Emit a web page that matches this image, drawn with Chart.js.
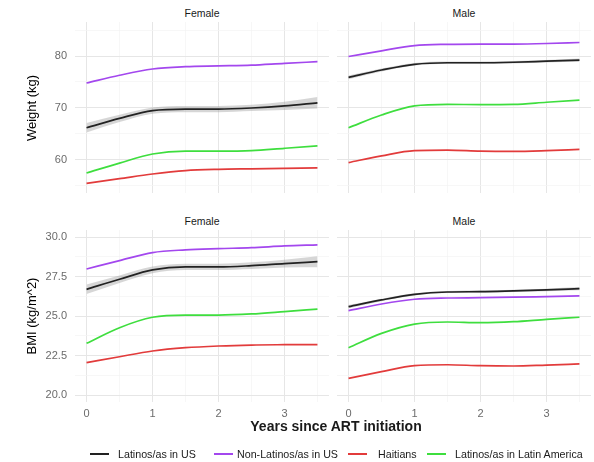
<!DOCTYPE html>
<html>
<head>
<meta charset="utf-8">
<script src="https://cdn.jsdelivr.net/npm/chart.js@4.4.0/dist/chart.umd.min.js"></script>
<style>
  body { margin: 0; background: #fff; font-family: "Liberation Sans", Arial, sans-serif; }
  #wrap { position: relative; width: 594px; height: 462px; overflow: hidden; }
  #wrap canvas { position: absolute; }
  .strip { position: absolute; font-size: 10.5px; color: #1a1a1a; transform: translate(-50%, -50%); white-space: nowrap; }
  .ytitle { position: absolute; font-size: 13px; color: #000; white-space: nowrap; transform: translate(-50%, -50%) rotate(-90deg); }
  .xtitle { position: absolute; font-size: 14px; font-weight: bold; color: #1a1a1a; white-space: nowrap; transform: translate(-50%, -50%); }
  .lkey { position: absolute; width: 19px; height: 2px; top: 453px; }
  .ltxt { position: absolute; top: 454px; font-size: 10.7px; color: #1a1a1a; white-space: nowrap; transform: translateY(-50%); }
</style>
</head>
<body>
<div id="wrap">
  <canvas id="wtFem" width="329" height="171" style="left:0;top:22px"></canvas>
  <canvas id="wtMale" width="254" height="171" style="left:337px;top:22px"></canvas>
  <canvas id="bmiFem" width="329" height="190" style="left:0;top:230px"></canvas>
  <canvas id="bmiMale" width="254" height="190" style="left:337px;top:230px"></canvas>

  <div class="strip" style="left:202px;top:13px">Female</div>
  <div class="strip" style="left:464px;top:13px">Male</div>
  <div class="strip" style="left:202px;top:221px">Female</div>
  <div class="strip" style="left:464px;top:221px">Male</div>

  <div class="ytitle" style="left:31px;top:108px">Weight (kg)</div>
  <div class="ytitle" style="left:31px;top:316px">BMI (kg/m^2)</div>
  <div class="xtitle" style="left:336px;top:426px">Years since ART initiation</div>
</div>

<script>
// Anos desde o inicio da TARV
const years = [0, 0.5, 1, 1.5, 2, 2.5, 3, 3.5];

const groupNames = ['Latinos/as in US', 'Non-Latinos/as in US', 'Haitians', 'Latinos/as in Latin America'];
const groupColors = ['#222222', '#a347ee', '#e23b3b', '#3ede3e'];

// Peso (kg) - mulheres
const wtFemLatUS = [66.2, 68.0, 69.5, 69.8, 69.8, 70.0, 70.4, 71.0];
const wtFemNonLat = [74.8, 76.3, 77.5, 77.95, 78.1, 78.25, 78.6, 78.9];
const wtFemHaiti = [55.5, 56.4, 57.3, 57.95, 58.2, 58.3, 58.4, 58.5];
const wtFemLatAm = [57.5, 59.4, 61.15, 61.7, 61.7, 61.8, 62.25, 62.7];
const wtFemLatUSLow = [65.3, 67.3, 68.9, 69.2, 69.2, 69.4, 69.6, 69.9];
const wtFemLatUSHigh = [67.1, 68.7, 70.1, 70.4, 70.4, 70.6, 71.2, 72.1];

// Peso (kg) - homens
const wtMaleLatUS = [75.9, 77.3, 78.4, 78.7, 78.7, 78.8, 79.0, 79.2];
const wtMaleNonLat = [79.9, 81.0, 82.0, 82.25, 82.3, 82.3, 82.4, 82.6];
const wtMaleHaiti = [59.5, 60.8, 61.8, 61.9, 61.7, 61.65, 61.8, 62.05];
const wtMaleLatAm = [66.2, 68.65, 70.4, 70.7, 70.65, 70.7, 71.1, 71.5];
const wtMaleLatUSLow = [75.55, 77.0, 78.15, 78.45, 78.45, 78.55, 78.75, 78.9];
const wtMaleLatUSHigh = [76.25, 77.6, 78.65, 78.95, 78.95, 79.05, 79.25, 79.5];

// IMC (kg/m^2) - mulheres
const bmiFemLatUS = [26.7, 27.34, 27.93, 28.12, 28.12, 28.2, 28.33, 28.45];
const bmiFemNonLat = [27.99, 28.52, 29.03, 29.2, 29.28, 29.34, 29.45, 29.52];
const bmiFemHaiti = [22.05, 22.43, 22.79, 23.0, 23.11, 23.17, 23.19, 23.2];
const bmiFemLatAm = [23.28, 24.27, 24.93, 25.07, 25.07, 25.14, 25.29, 25.45];
const bmiFemLatUSLow = [26.4, 27.1, 27.72, 27.92, 27.92, 27.99, 28.08, 28.1];
const bmiFemLatUSHigh = [27.0, 27.58, 28.14, 28.32, 28.32, 28.41, 28.58, 28.8];

// IMC (kg/m^2) - homens
const bmiMaleLatUS = [25.6, 26.03, 26.38, 26.53, 26.55, 26.6, 26.66, 26.74];
const bmiMaleNonLat = [25.35, 25.77, 26.07, 26.15, 26.17, 26.2, 26.24, 26.28];
const bmiMaleHaiti = [21.06, 21.48, 21.86, 21.92, 21.86, 21.84, 21.9, 21.97];
const bmiMaleLatAm = [23.0, 23.91, 24.5, 24.63, 24.59, 24.65, 24.8, 24.93];
const bmiMaleLatUSLow = [25.5, 25.95, 26.31, 26.46, 26.48, 26.53, 26.58, 26.64];
const bmiMaleLatUSHigh = [25.7, 26.11, 26.45, 26.6, 26.62, 26.67, 26.74, 26.84];

// Marcas dos eixos (principais e secundarias)
const yearTicks = [0, 1, 2, 3];
const yearMinor = [0.5, 1.5, 2.5, 3.5];
const wtTicks = [60, 70, 80];
const wtMinor = [55, 65, 75, 85];
const bmiTicks = [20, 22.5, 25, 27.5, 30];
const bmiMinor = [21.25, 23.75, 26.25, 28.75];

function pts(arr) {
    return arr.map((v, i) => ({ x: years[i], y: v }));
}

function gridOpts(major) {
    return {
        drawTicks: false,
        color: ctx => major.includes(ctx.tick && ctx.tick.value) ? '#e6e6e6' : '#f3f3f3',
        lineWidth: ctx => major.includes(ctx.tick && ctx.tick.value) ? 1 : 0.7
    };
}

function setTicks(major, minor) {
    return scale => {
        scale.ticks = major.concat(minor).sort((a, b) => a - b).map(v => ({ value: v }));
    };
}

// Funcao para criar um painel
function criarPainel(id, series, band, opts) {
    const datasets = series.map((s, i) => ({
        label: groupNames[i],
        data: pts(s),
        borderColor: groupColors[i],
        borderWidth: 1.7,
        pointRadius: 0,
        cubicInterpolationMode: 'monotone',
        fill: false
    }));
    // faixa de confianca (desenhada por baixo)
    datasets.push({
        label: 'hi',
        data: pts(band[1]),
        borderWidth: 0,
        pointRadius: 0,
        cubicInterpolationMode: 'monotone',
        backgroundColor: 'rgba(153,153,153,0.4)',
        fill: '+1'
    });
    datasets.push({
        label: 'lo',
        data: pts(band[0]),
        borderWidth: 0,
        pointRadius: 0,
        cubicInterpolationMode: 'monotone',
        fill: false
    });

    new Chart(document.getElementById(id), {
        type: 'line',
        data: { datasets: datasets },
        options: {
            responsive: false,
            animation: false,
            layout: { padding: 0 },
            plugins: { legend: { display: false }, tooltip: { enabled: false } },
            scales: {
                x: {
                    type: 'linear',
                    min: -0.175,
                    max: 3.675,
                    afterBuildTicks: setTicks(yearTicks, yearMinor),
                    afterFit: s => {
                        s.height = opts.showX ? 18 : 0;
                        s.paddingLeft = 0; s.paddingRight = 0;
                    },
                    grid: gridOpts(yearTicks),
                    border: { display: false },
                    ticks: {
                        display: opts.showX,
                        padding: 5,
                        color: '#6b6b6b',
                        font: { family: 'Liberation Sans', size: 11 },
                        maxRotation: 0,
                        autoSkip: false,
                        callback: v => yearTicks.includes(v) ? String(v) : ''
                    }
                },
                y: {
                    min: opts.ymin,
                    max: opts.ymax,
                    afterBuildTicks: setTicks(opts.major, opts.minor),
                    afterFit: s => {
                        s.width = opts.showY ? 75 : 0;
                        s.paddingTop = 0; s.paddingBottom = 0;
                    },
                    grid: gridOpts(opts.major),
                    border: { display: false },
                    ticks: {
                        display: opts.showY,
                        padding: 8,
                        color: '#6b6b6b',
                        font: { family: 'Liberation Sans', size: 11 },
                        autoSkip: false,
                        callback: v => opts.major.includes(v) ? opts.fmt(v) : ''
                    }
                }
            }
        }
    });
}

const wtOpts = { ymin: 53.65, ymax: 86.54, major: wtTicks, minor: wtMinor, fmt: v => String(v) };
const bmiOpts = { ymin: 19.56, ymax: 30.46, major: bmiTicks, minor: bmiMinor, fmt: v => v.toFixed(1) };

criarPainel('wtFem', [wtFemLatUS, wtFemNonLat, wtFemHaiti, wtFemLatAm], [wtFemLatUSLow, wtFemLatUSHigh],
    Object.assign({ showX: false, showY: true }, wtOpts));
criarPainel('wtMale', [wtMaleLatUS, wtMaleNonLat, wtMaleHaiti, wtMaleLatAm], [wtMaleLatUSLow, wtMaleLatUSHigh],
    Object.assign({ showX: false, showY: false }, wtOpts));
criarPainel('bmiFem', [bmiFemLatUS, bmiFemNonLat, bmiFemHaiti, bmiFemLatAm], [bmiFemLatUSLow, bmiFemLatUSHigh],
    Object.assign({ showX: true, showY: true }, bmiOpts));
criarPainel('bmiMale', [bmiMaleLatUS, bmiMaleNonLat, bmiMaleHaiti, bmiMaleLatAm], [bmiMaleLatUSLow, bmiMaleLatUSHigh],
    Object.assign({ showX: true, showY: false }, bmiOpts));

// Legenda (posicoes das chaves e textos)
const legendKeyX = [90, 214, 348, 427];
const legendTextX = [118, 237, 378, 455];
const wrap = document.getElementById('wrap');
groupNames.forEach((name, i) => {
    const key = document.createElement('div');
    key.className = 'lkey';
    key.style.left = legendKeyX[i] + 'px';
    key.style.background = groupColors[i];
    wrap.appendChild(key);
    const txt = document.createElement('div');
    txt.className = 'ltxt';
    txt.style.left = legendTextX[i] + 'px';
    txt.textContent = name;
    wrap.appendChild(txt);
});
</script>
</body>
</html>
